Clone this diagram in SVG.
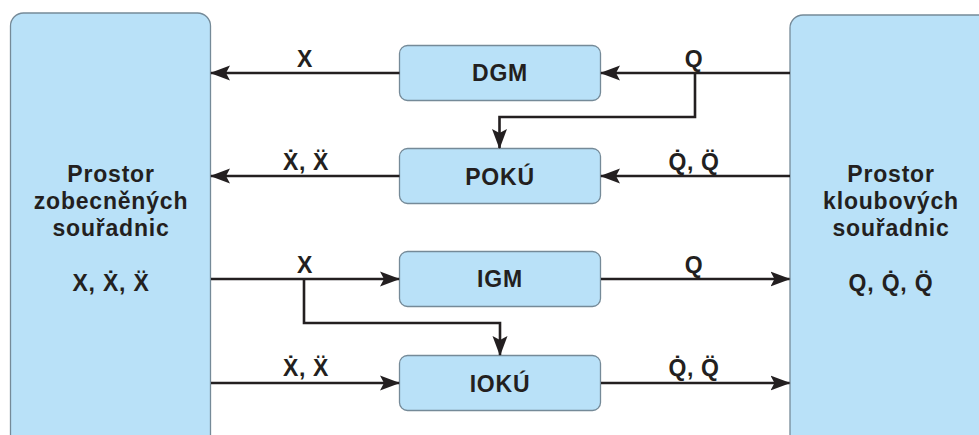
<svg xmlns="http://www.w3.org/2000/svg" width="979" height="435" viewBox="0 0 979 435">
  <style>
    .box { fill: #b9e1f8; stroke: #758a98; stroke-width: 1.3; }
    .wire { fill: none; stroke: #231f20; stroke-width: 2.6; }
    text { font-family: "Liberation Sans", Arial, sans-serif; font-weight: bold; fill: #231f20; text-anchor: middle; }
    .big { font-size: 23px; letter-spacing: 0.8px; }
    .lbl { font-size: 23px; letter-spacing: 0.6px; }
  </style>
  <defs>
    <marker id="arrow" viewBox="0 0 20 16" refX="19" refY="8" markerWidth="20" markerHeight="16" markerUnits="userSpaceOnUse" orient="auto">
      <path d="M0,0.5 L20,8 L0,15.5 L4,8 Z" fill="#231f20"/>
    </marker>
  </defs>

  <rect width="979" height="435" fill="#ffffff"/>

  <!-- space of generalized coordinates -->
  <g id="left-space">
    <rect class="box" x="10.5" y="13" width="200" height="440" rx="13"/>
    <text class="big" x="111" y="182">Prostor</text>
    <text class="big" x="111" y="209">zobecněných</text>
    <text class="big" x="111" y="236">souřadnic</text>
    <text class="big" x="111" y="291">X, Ẋ, Ẍ</text>
  </g>

  <!-- space of joint coordinates -->
  <g id="right-space">
    <rect class="box" x="790" y="15" width="220" height="440" rx="13"/>
    <text class="big" x="891" y="182">Prostor</text>
    <text class="big" x="891" y="209">kloubových</text>
    <text class="big" x="891" y="236">souřadnic</text>
    <text class="big" x="891" y="291">Q, Q̇, Q̈</text>
  </g>

  <g id="dgm">
    <rect class="box" x="399.5" y="45.5" width="201" height="55" rx="8"/>
    <text class="big" x="500" y="81">DGM</text>
  </g>
  <g id="poku">
    <rect class="box" x="399.5" y="148.5" width="201" height="55" rx="8"/>
    <text class="big" x="500" y="185">POKÚ</text>
  </g>
  <g id="igm">
    <rect class="box" x="399.5" y="251.5" width="201" height="55" rx="8"/>
    <text class="big" x="500" y="287">IGM</text>
  </g>
  <g id="ioku">
    <rect class="box" x="399.5" y="355.5" width="201" height="55" rx="8"/>
    <text class="big" x="500" y="392">IOKÚ</text>
  </g>

  <g id="connectors">
    <!-- DGM row -->
    <line class="wire" x1="399.5" y1="73" x2="211" y2="73" marker-end="url(#arrow)"/>
    <line class="wire" x1="790" y1="73" x2="601" y2="73" marker-end="url(#arrow)"/>
    <polyline class="wire" points="695,73 695,117 499.5,117 499.5,148" marker-end="url(#arrow)"/>
    <!-- POKÚ row -->
    <line class="wire" x1="399.5" y1="176" x2="211" y2="176" marker-end="url(#arrow)"/>
    <line class="wire" x1="790" y1="176" x2="601" y2="176" marker-end="url(#arrow)"/>
    <!-- IGM row -->
    <line class="wire" x1="211" y1="279" x2="399" y2="279" marker-end="url(#arrow)"/>
    <line class="wire" x1="601" y1="279" x2="789.5" y2="279" marker-end="url(#arrow)"/>
    <polyline class="wire" points="304,279 304,323 500,323 500,355" marker-end="url(#arrow)"/>
    <!-- IOKÚ row -->
    <line class="wire" x1="211" y1="383" x2="399" y2="383" marker-end="url(#arrow)"/>
    <line class="wire" x1="601" y1="383" x2="789.5" y2="383" marker-end="url(#arrow)"/>
  </g>

  <g id="labels">
    <text class="lbl" x="305" y="67">X</text>
    <text class="lbl" x="694" y="67">Q</text>
    <text class="lbl" x="306" y="170">Ẋ, Ẍ</text>
    <text class="lbl" x="694" y="170">Q̇, Q̈</text>
    <text class="lbl" x="305" y="273">X</text>
    <text class="lbl" x="694" y="273">Q</text>
    <text class="lbl" x="306" y="376">Ẋ, Ẍ</text>
    <text class="lbl" x="694" y="376">Q̇, Q̈</text>
  </g>
</svg>
